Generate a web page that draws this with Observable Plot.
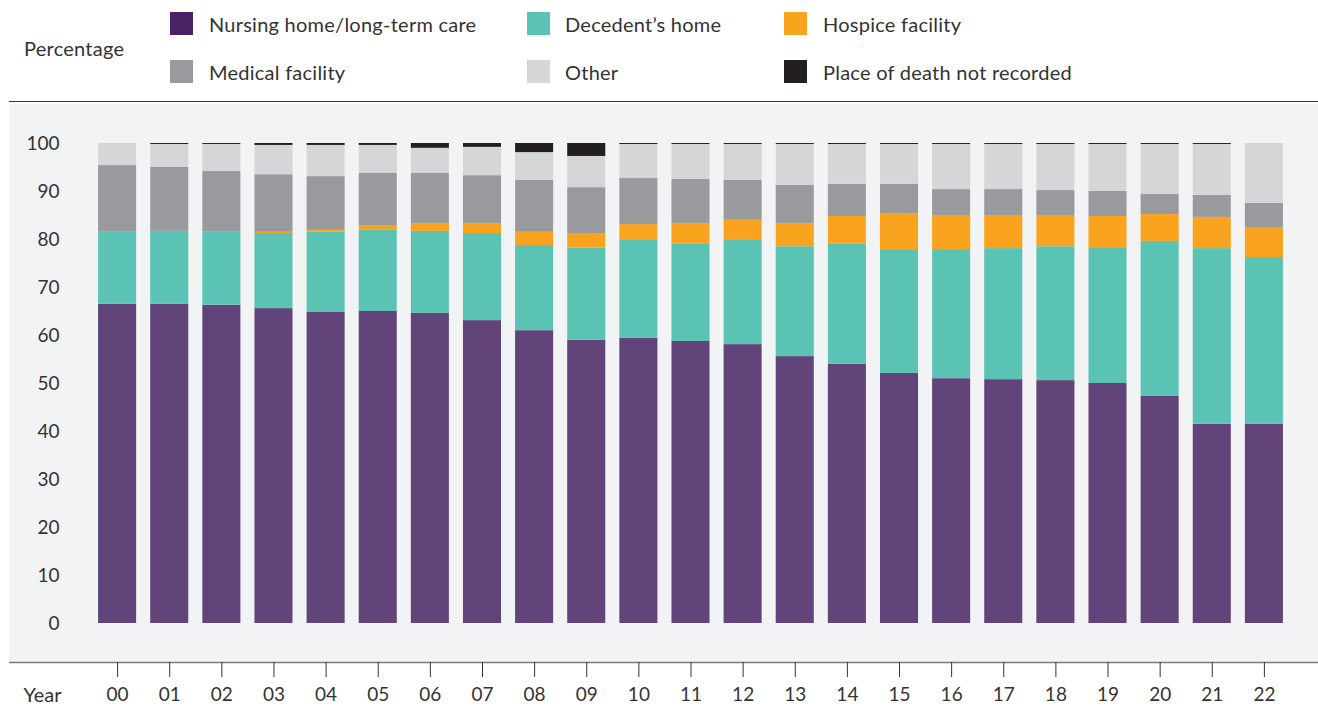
<!DOCTYPE html>
<html>
<head>
<meta charset="utf-8">
<script src="https://cdn.jsdelivr.net/npm/d3@7"></script>
<script src="https://cdn.jsdelivr.net/npm/@observablehq/plot@0.6"></script>
<style>
  body { margin: 0; background: #fff; font-family: Lato, "Open Sans", sans-serif; color: #333; }
  #legend { position: relative; width: 1318px; height: 103px; }
  #legend .rule { position: absolute; left: 9px; right: 0; top: 101px; border-top: 1.5px solid #333; }
  #legend .item { position: absolute; font-size: 20px; letter-spacing: 0.25px; line-height: 24px; white-space: nowrap; }
  #legend .sw { position: absolute; width: 23px; height: 23px; }
  #chart svg { display: block; }
</style>
</head>
<body>
<div id="legend"></div>
<div id="chart"></div>
<script>
const years = ["00","01","02","03","04","05","06","07","08","09","10","11","12","13","14","15","16","17","18","19","20","21","22"];
const categories = ["Nursing home/long-term care", "Decedent’s home", "Hospice facility", "Medical facility", "Other", "Place of death not recorded"];
const barColors = ["#614479", "#5ac3b4", "#f9a31e", "#999a9e", "#d5d6d8", "#231f20"];
const legendColors = ["#4a2164", "#5ac3b4", "#f9a31e", "#999a9e", "#d5d6d8", "#231f20"];
const yTicks = [0, 10, 20, 30, 40, 50, 60, 70, 80, 90, 100];

const nursing = [66.5,66.5,66.3,65.6,64.8,65.0,64.6,63.1,61.0,59.0,59.4,58.75,58.1,55.6,54.0,52.1,51.0,50.8,50.6,50.0,47.3,41.5,41.5];
const decedentHome = [15.0,15.2,15.2,15.65,16.7,16.9,17.1,18.15,17.75,19.2,20.4,20.25,21.7,22.9,25.0,25.8,26.9,27.3,27.9,28.3,32.3,36.6,34.75];
const hospice = [0,0,0,0.25,0.4,1.0,1.6,2.05,2.75,3.05,3.3,4.3,4.2,4.8,5.8,7.5,7.1,6.9,6.5,6.5,5.6,6.5,6.25];
const medical = [13.9,13.3,12.7,12.0,11.2,10.85,10.45,10.0,10.8,9.55,9.6,9.2,8.3,7.95,6.7,6.1,5.4,5.4,5.2,5.2,4.2,4.6,5.0];
const other = [4.6,4.8,5.6,6.1,6.5,5.85,5.25,5.9,5.8,6.5,7.1,7.3,7.5,8.55,8.3,8.3,9.4,9.4,9.6,9.8,10.4,10.6,12.5];
const notRecorded = [0,0.2,0.2,0.4,0.4,0.4,1.0,0.8,1.9,2.7,0.2,0.2,0.2,0.2,0.2,0.2,0.2,0.2,0.2,0.2,0.2,0.2,0];

const series = [nursing, decedentHome, hospice, medical, other, notRecorded];
const rows = years.flatMap((yr, i) => categories.map((c, j) => ({year: yr, cat: c, value: series[j][i]})));

// Legend (HTML, above the SVG)
const legend = document.getElementById("legend");
const lab = document.createElement("div");
lab.className = "item"; lab.textContent = "Percentage";
lab.style.left = "24px"; lab.style.top = "36px";
legend.appendChild(lab);
const colX = [170, 527, 784];
const textX = [209, 565, 823];
const rowY = [12, 60];
categories.forEach((c, i) => {
  const col = i % 3, row = Math.floor(i / 3);
  const sw = document.createElement("div");
  sw.className = "sw"; sw.style.left = colX[col] + "px"; sw.style.top = rowY[row] + "px";
  sw.style.background = legendColors[i];
  legend.appendChild(sw);
  const t = document.createElement("div");
  t.className = "item"; t.textContent = c;
  t.style.left = textX[col] + "px"; t.style.top = rowY[row] + "px";
  legend.appendChild(t);
});
const rule = document.createElement("div"); rule.className = "rule"; legend.appendChild(rule);

const ml = 84, mr = 21, mt = 40, mb = 47;
const yMin = -8.125;
const chart = Plot.plot({
  width: 1318,
  height: 606,
  marginLeft: ml,
  marginRight: mr,
  marginTop: mt,
  marginBottom: mb,
  style: {fontFamily: "Lato, 'Open Sans', sans-serif", fontSize: "19px", color: "#333", background: "transparent", overflow: "visible"},
  x: {domain: years, padding: 0.27, round: false, label: null},
  y: {domain: [yMin, 100], label: null},
  color: {domain: categories, range: barColors},
  marks: [
    Plot.frame({fill: "#f2f3f5", stroke: "none", insetLeft: -(ml - 9), insetRight: -mr, insetTop: -mt}),
    Plot.barY(rows, {x: "year", y: "value", fill: "cat", order: categories}),
    Plot.ruleY([yMin], {stroke: "#7a7a7a", strokeWidth: 1.5, insetLeft: -(ml - 9), insetRight: -mr}),
    Plot.axisY({ticks: yTicks, tickSize: 0, tickPadding: 25, label: null, fontSize: 19}),
    Plot.axisX({tickSize: 15, tickPadding: 10, label: null, fontSize: 19, stroke: "#333"}),
    Plot.text(["Year"], {frameAnchor: "bottom-left", dx: -(ml - 23), dy: 25, textAnchor: "start", lineAnchor: "top", fontSize: 20, fill: "#333", style: "letter-spacing:0.4px"})
  ]
});
document.getElementById("chart").appendChild(chart);
</script>
</body>
</html>
